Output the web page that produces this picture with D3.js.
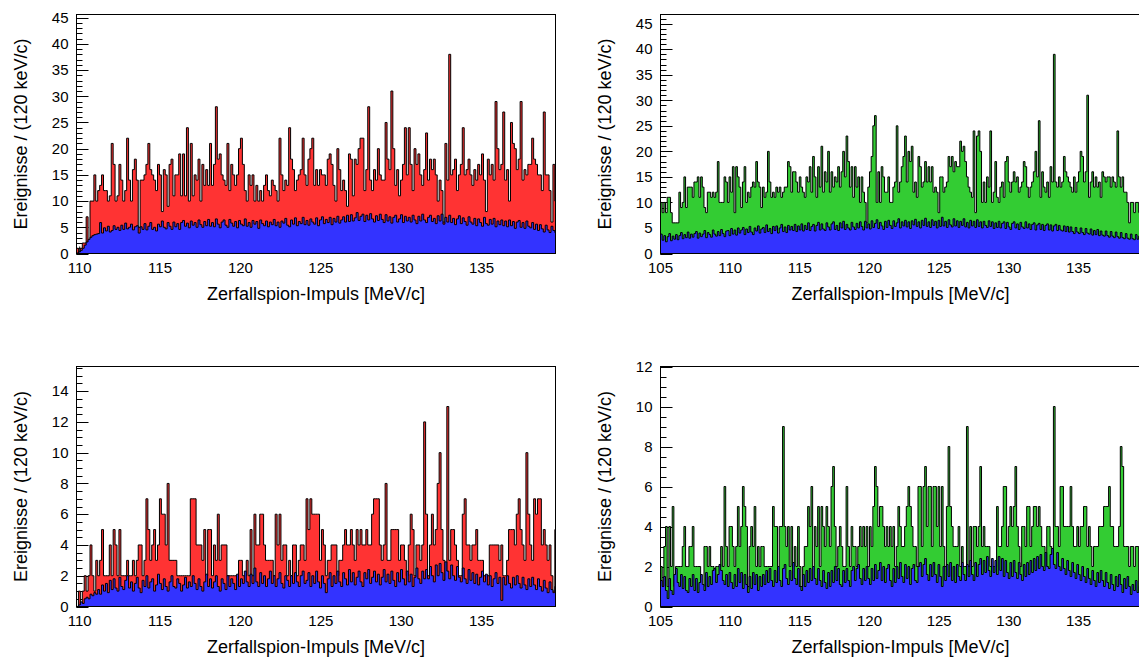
<!DOCTYPE html>
<html><head><meta charset="utf-8">
<script src="https://cdn.jsdelivr.net/npm/d3@7"></script>
<style>
body{margin:0;background:#fff}
text{font-family:"Liberation Sans",Arial,Helvetica,sans-serif;fill:#000}
</style>
</head><body>
<svg id="c" width="1139" height="658"></svg>
<script>
// ---------- data (counts per 120 keV/c bin) ----------
const binWidth = 0.12;
const startA = 109.8;   // left panels
const startB = 105.0;   // right panels

const xTicksA = [110,115,120,125,130,135];
const xTicksB = [105,110,115,120,125,130,135];
const yTicksTop = [0,5,10,15,20,25,30,35,40,45];
const yTicksBL = [0,2,4,6,8,10,12,14];
const yTicksBR = [0,2,4,6,8,10,12];

const xTitle = "Zerfallspion-Impuls [MeV/c]";
const yTitle = "Ereignisse / (120 keV/c)";

// top-left: data (red) and simulation (blue)
const tlData = [
1,0,1,2,2,7,2,10,10,15,
10,12,13,15,12,12,10,11,21,17,
10,11,17,14,10,12,22,14,10,16,
18,14,5,14,14,15,17,21,16,15,
14,12,17,15,8,16,15,9,17,18,
11,15,15,19,11,19,11,24,10,21,
11,15,14,18,10,17,13,16,13,21,
13,17,28,18,19,15,14,13,21,12,
17,15,13,15,20,22,17,12,10,15,
13,15,10,13,10,12,10,13,15,12,
11,14,13,12,10,22,15,12,14,13,
24,18,16,12,14,15,16,22,15,13,
18,20,22,13,16,13,16,15,15,13,
18,19,17,13,10,20,16,12,14,12,
9,19,18,11,18,17,20,22,22,12,
16,28,14,12,16,14,20,15,14,14,
25,18,16,31,20,13,16,11,14,17,
24,15,24,17,12,20,17,19,15,13,
16,23,14,18,16,18,15,10,14,12,
6,21,14,38,15,16,18,12,15,17,
24,15,16,18,15,13,16,14,17,15,
19,14,8,18,15,17,14,29,20,16,
17,27,14,16,10,25,21,20,16,18,
29,14,16,15,17,17,22,18,17,15,
15,12,27,15,15,12,6,17,10];
const tlSim = [
0.1,0.3,0.6,1.0,1.6,2.2,2.7,3.1,3.4,3.6,3.7,
3.8,5.9,3.9,4.9,4.3,5.2,4.1,4.4,5.3,4.6,5.0,4.4,5.4,4.6,5.8,4.7,5.0,5.6,4.5,5.1,
5.3,3.9,5.1,4.6,5.7,4.5,5.2,5.9,4.6,5.0,4.3,5.6,5.1,6.2,5.0,4.7,5.9,5.2,4.6,6.0,5.1,5.7,4.6,5.9,6.3,5.2,5.8,4.9,6.2,5.4,
5.9,5.0,6.4,5.5,5.0,6.1,5.3,6.5,5.2,5.9,5.1,6.6,5.6,4.9,6.0,6.4,5.4,5.0,6.5,5.8,5.2,6.1,4.9,6.3,5.6,5.3,6.6,5.2,5.9,5.0,6.3,5.6,6.1,4.8,6.4,5.7,5.3,6.2,5.1,6.0,
5.5,6.5,5.3,6.0,5.0,6.2,5.8,6.7,5.4,5.1,6.4,5.6,6.8,5.3,6.1,5.7,6.9,5.5,6.3,5.4,6.6,6.0,5.6,6.8,5.3,6.4,7.0,5.7,6.5,5.9,6.9,5.5,6.7,6.0,7.1,5.8,6.4,7.0,6.0,7.3,
6.1,7.4,6.2,6.8,7.8,6.3,7.1,7.5,6.1,7.3,6.4,7.6,6.6,6.0,7.2,6.3,7.5,6.5,5.9,7.4,6.2,7.0,5.8,6.9,7.3,6.0,6.6,7.4,5.9,7.1,6.2,6.9,6.0,7.3,6.4,5.7,7.1,6.2,7.5,6.4,
5.9,6.9,7.3,6.1,6.7,5.7,7.2,6.2,7.5,5.6,6.9,6.0,7.3,5.9,6.7,5.5,6.6,7.2,5.7,6.8,6.1,5.4,7.0,6.0,5.6,6.7,5.3,6.6,5.9,5.2,6.9,5.7,5.4,6.5,5.6,6.7,5.1,6.2,5.5,6.4,
5.3,6.2,5.1,6.4,5.3,6.1,4.8,6.0,6.3,5.0,5.9,4.8,6.2,5.2,4.9,5.9,4.6,5.6,4.4,5.5,4.7,4.1,5.4,4.5,4.0,5.2,4.4,4.0];

// top-right: data (green) and simulation (blue)
const trData = [
10,8,10,8,11,11,8,6,6,6,
6,12,9,10,15,9,13,13,13,11,
14,14,15,11,15,13,9,8,12,12,
11,12,11,12,18,10,10,10,15,14,
10,15,12,17,8,17,15,13,9,14,
17,10,12,11,13,14,13,18,14,13,
9,13,11,12,20,14,11,12,11,13,
12,13,11,12,13,13,18,17,12,16,
16,14,12,15,13,12,11,15,14,17,
12,19,15,11,17,13,21,12,16,14,
20,12,16,13,15,14,17,13,16,20,
15,23,18,13,17,11,17,13,15,10,
15,12,10,6,13,16,19,25,27,10,
16,10,17,15,12,12,15,10,10,13,
14,25,12,14,17,19,23,14,20,18,
21,12,14,11,19,17,13,14,18,14,
17,14,17,12,13,12,8,15,15,12,
13,14,19,17,19,16,18,17,17,22,
20,21,18,15,13,12,11,24,8,23,
24,20,10,14,10,15,13,24,10,12,
18,11,10,13,14,11,18,19,14,12,
14,16,14,15,12,13,14,18,17,13,
11,13,14,16,20,15,26,11,16,13,
12,14,11,17,14,39,14,13,15,13,
14,19,16,15,14,13,12,15,12,14,
16,20,19,14,16,31,11,14,16,13,
15,13,14,11,16,15,14,15,15,13,
15,14,13,24,15,13,15,12,12,10,
6,10,10,8,10,10,8,11];
const trSim = [
3.8,2.6,3.5,2.3,3.3,3.9,2.5,3.4,2.8,3.7,2.7,3.5,4.1,2.9,3.7,3.1,4.2,3.0,3.8,3.2,3.9,4.3,3.0,4.0,3.3,3.8,4.5,3.1,4.1,3.7,3.2,4.6,3.8,3.4,4.3,3.5,4.7,3.9,3.3,4.4,
4.5,3.5,4.9,3.8,4.6,3.6,5.0,4.0,4.6,5.1,3.7,4.8,4.1,5.3,4.2,3.7,5.0,4.4,5.4,4.0,4.8,5.1,4.1,5.6,4.3,4.9,3.9,5.3,4.5,5.4,4.0,5.0,5.7,4.3,5.2,4.1,5.5,4.6,5.3,4.5,
5.7,4.3,5.4,4.6,5.8,4.4,5.5,4.7,6.0,4.5,5.3,5.7,4.4,5.5,6.1,4.6,5.8,4.8,4.5,6.0,5.2,4.6,5.8,6.2,4.7,5.5,4.5,6.0,5.0,6.3,4.7,5.7,5.0,4.6,6.1,5.2,4.7,5.9,5.0,6.2,
5.3,4.6,6.3,5.0,5.8,4.8,6.4,5.1,5.9,6.6,4.9,6.1,5.4,4.7,6.3,5.1,6.5,5.5,4.9,6.4,5.3,6.0,6.8,5.0,6.2,5.4,6.5,5.2,6.2,4.9,6.4,5.6,6.7,5.3,6.2,5.0,6.5,5.5,6.9,5.3,
6.2,5.1,6.6,5.5,6.3,5.0,6.5,5.3,7.1,5.4,6.3,5.1,6.6,5.6,5.2,6.8,5.4,6.4,5.1,6.3,5.5,6.8,5.2,6.1,5.0,6.5,5.4,6.3,5.1,6.6,5.3,6.2,5.0,6.3,5.5,5.1,6.4,5.3,6.2,4.9,
6.0,5.1,6.3,5.0,5.9,6.2,4.9,6.1,5.2,4.7,5.9,6.2,5.0,5.8,4.7,6.1,5.2,4.9,6.2,5.0,5.8,4.7,5.7,6.0,4.6,5.6,5.9,4.7,5.7,4.5,5.5,5.8,4.6,5.6,4.4,5.4,5.7,4.5,5.5,4.6,
4.4,5.4,4.3,5.3,4.2,5.2,4.3,3.9,5.1,4.2,3.9,5.0,4.1,3.7,4.9,4.0,3.8,4.8,3.6,4.5,3.7,4.7,3.5,4.4,3.6,3.4,4.4,3.5,3.2,4.3,3.4,3.1,4.2,3.3,3.0,4.1,3.1,2.9,3.9,3.0,2.8,3.8,2.9,2.7,3.7,2.8,3.4,2.9];

// bottom-left: data (red) and simulation (blue)
const blData = [
0,1,0,1,2,1,2,4,2,1,
3,2,3,5,2,2,2,4,2,5,
4,2,5,2,2,2,3,2,2,3,
2,3,4,4,2,3,7,5,3,4,
5,3,4,7,6,6,4,8,3,3,
3,3,2,2,2,2,2,2,2,7,
7,7,4,4,4,3,5,2,5,5,
2,4,3,6,3,4,4,4,2,2,
2,2,2,2,3,3,2,2,3,2,
5,2,6,4,4,6,6,4,3,3,
3,3,2,6,4,6,3,4,4,2,
3,2,4,4,2,3,4,4,3,7,
5,7,6,6,6,6,3,5,4,2,
3,3,4,4,4,2,3,3,4,5,
4,4,5,4,3,5,4,5,4,4,
5,4,4,6,7,7,7,4,3,4,
8,3,3,5,5,5,5,3,4,4,
3,2,4,6,5,2,4,4,3,4,
12,6,2,4,6,4,5,8,10,5,
3,1,13,3,5,5,4,3,2,2,
6,7,4,4,3,4,4,5,3,3,
3,2,2,2,4,4,4,4,4,3,
4,2,2,3,5,5,5,4,6,7,
5,4,3,10,6,4,3,7,6,7,
7,4,5,4,3,4,2,1,5];
const blSim = [
0,0.1,0.3,0.2,0.5,0.6,0.5,0.8,0.7,0.9,0.8,
1.1,0.8,1.4,1.0,1.5,0.9,1.7,1.1,1.8,1.2,1.0,1.9,1.3,1.1,1.7,2.0,1.2,1.6,1.0,1.5,1.9,1.2,0.9,1.7,1.3,2.0,1.2,1.6,1.8,1.0,1.4,2.1,1.5,1.1,1.8,1.3,1.0,1.6,2.0,1.3,1.2,1.8,1.5,1.0,1.4,1.9,1.2,1.6,1.3,2.0,
1.5,1.1,1.8,1.3,1.0,1.6,2.1,1.3,1.8,1.2,1.6,2.0,1.3,1.0,1.8,1.5,1.1,2.0,1.3,1.8,1.5,1.1,2.1,1.3,1.8,1.5,2.3,1.6,1.3,2.1,1.5,2.5,1.6,1.3,2.2,1.5,2.0,1.3,1.8,2.3,1.5,2.0,1.3,1.8,2.2,1.5,1.2,2.0,1.7,1.3,
2.0,1.5,2.2,1.6,1.3,2.0,2.3,1.5,1.7,2.2,1.3,2.0,1.5,2.3,1.6,1.2,2.0,1.5,0.9,1.8,2.2,1.3,2.0,1.5,2.3,1.6,1.3,2.2,1.8,1.4,2.4,1.6,2.2,1.4,1.9,2.3,1.6,1.3,2.2,1.8,2.4,1.5,1.9,2.3,1.6,2.1,1.4,1.9,2.4,1.6,
2.1,1.5,2.3,1.7,1.3,2.2,1.6,2.4,1.8,1.4,2.3,1.6,2.1,1.3,1.9,2.5,1.8,1.5,2.3,1.8,2.4,1.8,2.6,2.0,1.6,2.7,2.0,2.8,2.2,1.7,2.9,2.3,1.8,2.7,2.0,1.7,2.6,1.9,1.6,2.5,1.8,1.5,2.4,1.7,2.2,1.5,2.1,1.4,1.9,2.3,
1.6,2.1,1.4,2.0,1.3,1.8,2.2,1.5,1.9,0.4,1.9,1.4,2.0,1.5,1.2,1.9,1.4,2.0,1.5,1.2,1.9,1.4,1.1,1.8,1.3,1.9,1.4,1.1,1.8,1.3,1.0,1.7,1.2,0.9,1.6,1.1,0.9,1.3];

// bottom-right: data (green) and simulation (blue)
const brData = [
2,1,3,4,1,4,2,5,1,2,
2,2,2,3,4,2,2,3,3,4,
2,2,2,2,1,1,3,3,2,3,
2,2,1,2,2,2,3,2,6,3,
2,4,4,3,2,3,5,3,4,6,
5,4,1,3,4,3,5,2,3,2,
3,3,2,2,2,2,2,5,4,4,
2,4,4,9,4,3,4,2,4,2,
3,2,4,2,1,2,3,3,5,4,
6,2,4,3,5,2,5,4,3,5,
4,3,6,7,4,2,3,4,3,2,
2,6,3,2,4,3,3,2,3,4,
3,4,3,4,2,4,3,5,7,6,
4,5,5,4,3,4,3,4,3,4,
2,3,5,4,3,3,4,5,6,5,
4,3,3,2,6,6,3,6,7,4,
6,6,3,6,6,4,6,3,6,3,
2,5,8,5,4,3,3,3,4,2,
3,2,2,9,2,4,2,4,4,3,
4,7,3,4,3,3,3,2,2,2,
2,5,3,3,4,6,6,3,4,5,
4,5,7,4,3,2,4,4,3,5,
5,3,4,5,5,4,5,4,3,3,
2,4,4,3,2,10,4,4,3,6,
6,4,4,4,4,6,4,3,3,4,
3,4,4,5,5,3,4,3,2,3,
3,3,4,4,4,5,5,5,6,4,
4,3,3,3,4,8,7,3,3,3,
2,3,3,2,3,3,1,3];
const brSim = [
1.3,1.0,1.5,0.8,0.4,1.4,0.8,0.6,1.6,1.9,1.2,1.0,1.6,0.9,1.5,0.8,0.7,1.4,1.0,1.6,0.8,1.4,0.7,1.2,1.6,1.1,0.8,1.7,1.0,1.5,1.1,1.8,1.9,1.2,1.6,2.1,1.8,1.3,1.1,1.6,
1.0,1.7,1.2,0.9,1.6,1.0,1.9,1.2,1.7,0.9,1.6,1.1,0.7,1.5,0.9,1.7,1.1,1.6,0.8,1.5,1.0,1.6,1.1,1.8,1.2,1.9,1.3,1.0,1.8,1.2,2.0,1.3,1.0,1.9,2.1,1.4,1.1,1.8,1.3,2.2,
1.4,1.1,1.9,1.0,0.8,1.6,1.0,1.8,1.2,1.9,1.3,2.0,1.4,1.1,1.9,1.3,1.0,1.8,1.2,0.9,1.7,1.0,1.8,1.2,2.0,1.3,1.9,1.1,1.0,1.8,1.2,1.9,1.3,1.0,1.8,2.0,1.3,1.9,2.1,1.4,
1.1,1.9,1.3,2.0,1.4,1.1,1.9,1.3,2.1,1.4,1.8,2.2,1.3,2.0,1.2,1.9,2.1,1.3,1.0,1.9,1.2,2.0,1.4,2.2,1.5,1.2,2.1,1.4,2.0,1.1,1.9,2.1,1.3,1.2,2.0,2.2,1.5,2.1,2.4,1.6,
1.3,2.1,1.5,2.2,1.6,1.2,2.1,1.5,1.0,2.0,1.3,2.1,1.5,2.2,1.3,2.0,1.2,2.1,1.5,1.3,2.2,1.6,1.3,2.1,1.5,2.3,1.6,1.3,2.2,1.5,2.1,2.4,1.6,2.3,1.7,2.5,1.8,1.5,2.4,1.7,
2.3,1.6,2.5,1.8,2.4,1.5,2.3,1.7,1.4,2.2,1.5,2.3,1.7,1.4,2.2,1.6,1.3,2.1,1.5,2.2,1.6,2.3,1.7,2.4,1.8,2.5,1.9,2.6,2.0,1.8,2.7,2.0,1.9,2.6,2.9,2.1,1.9,2.7,2.0,1.8,
2.4,1.9,1.6,2.3,1.8,1.5,2.2,1.7,1.4,2.1,1.6,1.3,2.0,1.5,1.2,1.9,1.4,1.1,1.8,1.3,1.0,1.7,1.2,1.8,1.3,1.0,1.7,1.2,0.9,1.6,1.1,0.8,1.5,1.0,1.6,1.1,0.7,1.4,0.9,1.5,1.0,0.6,1.1,0.8,1.3,0.7,1.0,0.8];

// ---------- layout ----------
const RED = "#ff3333", GREEN = "#33cc33", BLUE = "#3333ff";
const panels = [
  {L:76.5, T:14.5, R:555.5, B:253.5, xd:[startA,139.6], start:startA, yMax:45.6, yTicks:yTicksTop, yMinor:1, xTicks:xTicksA, data:tlData, sim:tlSim, color:RED},
  {L:660.5, T:14.5, R:1140.5, B:253.5, xd:[startB,139.45], start:startB, yMax:46.8, yTicks:yTicksTop, yMinor:1, xTicks:xTicksB, data:trData, sim:trSim, color:GREEN},
  {L:76.5, T:366.5, R:555.5, B:606.5, xd:[startA,139.6], start:startA, yMax:15.6, yTicks:yTicksBL, yMinor:0.5, xTicks:xTicksA, data:blData, sim:blSim, color:RED},
  {L:660.5, T:366.5, R:1140.5, B:606.5, xd:[startB,139.45], start:startB, yMax:12, yTicks:yTicksBR, yMinor:0.5, xTicks:xTicksB, data:brData, sim:brSim, color:GREEN}
];

const svg = d3.select("#c");
svg.append("rect").attr("width",1139).attr("height",658).attr("fill","#fff");

panels.forEach((p, k) => {
  const x = d3.scaleLinear().domain(p.xd).range([p.L, p.R]);
  const y = d3.scaleLinear().domain([0, p.yMax]).range([p.B, p.T]);
  const g = svg.append("g");
  const clipId = "clip" + k;
  svg.append("clipPath").attr("id", clipId).append("rect")
    .attr("x", p.L).attr("y", p.T).attr("width", p.R - p.L).attr("height", p.B - p.T);

  // y ticks (drawn before histograms, like the original)
  const yMinorVals = d3.range(0, p.yMax + 1e-9, p.yMinor);
  g.selectAll(".ymin").data(yMinorVals).join("line")
    .attr("x1", p.L).attr("x2", p.L + 6)
    .attr("y1", d => Math.round(y(d)) + 0.5).attr("y2", d => Math.round(y(d)) + 0.5)
    .attr("stroke", "#000").attr("stroke-width", 1);
  g.selectAll(".ymaj").data(p.yTicks).join("line")
    .attr("x1", p.L).attr("x2", p.L + 12)
    .attr("y1", d => Math.round(y(d)) + 0.5).attr("y2", d => Math.round(y(d)) + 0.5)
    .attr("stroke", "#000").attr("stroke-width", 1);
  // x ticks
  const xMinorVals = d3.range(Math.ceil(p.xd[0]), p.xd[1], 1);
  g.selectAll(".xmin").data(xMinorVals).join("line")
    .attr("x1", d => x(d)).attr("x2", d => x(d))
    .attr("y1", p.B).attr("y2", d => p.B - (p.xTicks.includes(d) ? 7 : 4))
    .attr("stroke", "#000").attr("stroke-width", 1);

  // histograms
  const hg = g.append("g").attr("clip-path", `url(#${clipId})`);
  const pts = vals => {
    const n = vals.length;
    const a = [[p.start, 0]];
    vals.forEach((v, i) => a.push([p.start + i * binWidth, v]));
    a.push([p.start + n * binWidth, vals[n - 1]]);
    a.push([p.start + n * binWidth, 0]);
    return a;
  };
  const line = d3.line().x(d => x(d[0])).y(d => y(d[1])).curve(d3.curveStepAfter);
  hg.append("path").attr("d", line(pts(p.data)))
    .attr("fill", p.color).attr("stroke", "#000").attr("stroke-width", 1);
  hg.append("path").attr("d", line(pts(p.sim)))
    .attr("fill", BLUE).attr("stroke", "#000").attr("stroke-width", 1);

  // frame
  g.append("rect").attr("x", p.L).attr("y", p.T)
    .attr("width", p.R - p.L).attr("height", p.B - p.T)
    .attr("fill", "none").attr("stroke", "#000").attr("stroke-width", 1);

  // tick labels
  g.selectAll(".yl").data(p.yTicks).join("text")
    .attr("x", p.L - 8).attr("y", d => y(d)).attr("dy", "0.35em")
    .attr("text-anchor", "end").attr("font-size", 15).text(d => d);
  g.selectAll(".xl").data(p.xTicks).join("text")
    .attr("x", d => x(d)).attr("y", p.B + 14).attr("dy", "0.35em")
    .attr("text-anchor", "middle").attr("font-size", 15).text(d => d);

  // axis titles
  g.append("text").attr("x", (p.L + p.R) / 2).attr("y", p.B + 40).attr("dy", "0.35em")
    .attr("text-anchor", "middle").attr("font-size", 18).text(xTitle);
  g.append("text")
    .attr("transform", `translate(${p.L - 56},${(p.T + p.B) / 2}) rotate(-90)`)
    .attr("dy", "0.35em").attr("text-anchor", "middle").attr("font-size", 18).text(yTitle);
});
</script>
</body></html>
